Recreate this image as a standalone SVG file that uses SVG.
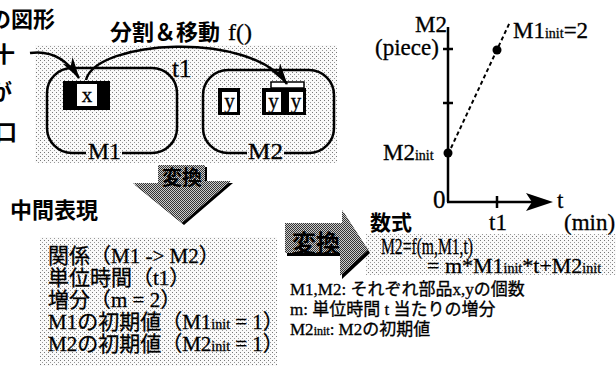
<svg xmlns="http://www.w3.org/2000/svg" width="616" height="377" viewBox="0 0 616 377">
<style>
.g{font-family:"Noto Sans CJK JP","Noto Sans",sans-serif;font-weight:bold;fill:#000}
.s{font-family:"Liberation Serif","Tinos","Times New Roman","DejaVu Serif","Noto Sans CJK JP",serif;fill:#000;stroke:#000;stroke-width:0.3}
.ln{fill:none;stroke:#000;stroke-width:2.5}
.sm{font-size:14px}
</style>
<defs>
<pattern id="dots" width="4" height="4" patternUnits="userSpaceOnUse">
<rect width="4" height="4" fill="#fafafa"/>
<rect x="0" y="0" width="1" height="1" fill="#777"/>
<rect x="2" y="2" width="1" height="1" fill="#999"/>
</pattern>
<pattern id="chk" width="2" height="2" patternUnits="userSpaceOnUse">
<rect width="2" height="2" fill="#ccc"/>
<rect x="0" y="0" width="1" height="1" fill="#333"/>
<rect x="1" y="1" width="1" height="1" fill="#333"/>
</pattern>
<marker id="ah" viewBox="0 0 22 12" refX="21" refY="6" markerWidth="22" markerHeight="12" markerUnits="userSpaceOnUse" orient="auto">
<path d="M0,0 L22,6 L0,12 L6,6 z" fill="#000"/>
</marker>
</defs>
<rect width="616" height="377" fill="#fff"/>

<rect id="panel-top" x="35" y="45" width="302" height="118" fill="url(#dots)"/>
<rect id="panel-mid" x="40" y="237" width="237" height="129" fill="url(#dots)"/>
<rect id="panel-formula" x="366" y="234" width="250" height="41" fill="url(#dots)"/>

<g id="left-text">
<text class="g" x="-11" y="27" font-size="22">の図形</text>
<text class="g" x="-7" y="62" font-size="22" font-weight="normal">十</text>
<text class="g" x="-10" y="100" font-size="22" font-weight="normal">が</text>
<text class="g" x="-5" y="140" font-size="22" font-weight="normal">口</text>
</g>

<g id="title">
<text class="g" x="110" y="40" font-size="22">分割＆移動<tspan class="s" font-weight="normal" dx="8" font-size="24">f()</tspan></text>
</g>

<g id="M1">
<path class="ln" d="M86,153 L72,153 A25,25 0 0 1 47,128 L47,93 A25,25 0 0 1 72,68 L152,68 A25,25 0 0 1 177,93 L177,128 A25,25 0 0 1 152,153 L122,153"/>
<text class="s" x="88" y="159" font-size="24" textLength="33" lengthAdjust="spacingAndGlyphs">M1</text>
<rect x="63" y="81" width="47" height="29" fill="#000"/>
<rect x="77" y="84" width="20" height="22" fill="#fff"/>
<text class="s" x="87" y="102" font-size="21" text-anchor="middle">x</text>
</g>

<g id="M2">
<path class="ln" d="M247,153 L228,153 A25,25 0 0 1 203,128 L203,95 A25,25 0 0 1 228,70 L309,70 A25,25 0 0 1 334,95 L334,128 A25,25 0 0 1 309,153 L284,153"/>
<text class="s" x="248" y="159" font-size="24" textLength="35" lengthAdjust="spacingAndGlyphs">M2</text>
<rect x="218" y="88" width="22" height="27" fill="#000"/>
<rect x="222" y="92" width="15" height="20" fill="#fff"/>
<text class="s" x="229.5" y="108" font-size="21" text-anchor="middle">y</text>
<rect x="262" y="88" width="44" height="27" fill="#000"/>
<rect x="266" y="92" width="15" height="20" fill="#fff"/>
<rect x="289" y="92" width="14" height="20" fill="#fff"/>
<text class="s" x="273.5" y="108" font-size="21" text-anchor="middle">y</text>
<text class="s" x="296" y="108" font-size="21" text-anchor="middle">y</text>
<rect x="271" y="82" width="33" height="6" fill="#fff" stroke="#000" stroke-width="1.5"/>
</g>

<g id="connectors">
<path class="ln" d="M30,53 C50,50 66,58 79,78" marker-end="url(#ah)"/>
<path class="ln" d="M86,80 C96,40 250,30 287,84" marker-end="url(#ah)"/>
</g>
<text class="s" x="172" y="77" font-size="25">t1</text>

<g id="arrow-down">
<polygon points="158,165 205,165 205,181 231,181 182,223 133,183 158,183" fill="#000" transform="translate(2,2)"/>
<polygon points="158,165 205,165 205,181 231,181 182,223 133,183 158,183" fill="url(#chk)"/>
<text class="g" x="162" y="185" font-size="20">変換</text>
</g>

<g id="arrow-right">
<polygon points="285,223 342,223 342,210 368,250 340,276 340,253 285,253" fill="#000" transform="translate(2,3)"/>
<polygon points="285,223 342,223 342,210 368,250 340,276 340,253 285,253" fill="url(#chk)"/>
<text class="g" x="292" y="252" font-size="24">変換</text>
</g>

<g id="mid-text">
<text class="g" x="10" y="218" font-size="22">中間表現</text>
<g class="s" font-size="21">
<text x="48" y="263">関係（M1 -&gt; M2）</text>
<text x="48" y="285">単位時間（t1）</text>
<text x="48" y="307">増分（m = 2）</text>
<text x="48" y="329">M1の初期値（M1<tspan class="sm">init</tspan> = 1）</text>
<text x="48" y="351">M2の初期値（M2<tspan class="sm">init</tspan> = 1）</text>
</g>
</g>

<g id="graph">
<line class="ln" x1="448" y1="27" x2="448" y2="202"/>
<line class="ln" x1="447" y1="202" x2="532" y2="202"/>
<polygon points="526,193 553,202 526,211 532,202" fill="#000"/>
<line class="ln" x1="443" y1="49" x2="453" y2="49"/>
<line class="ln" x1="443" y1="103" x2="453" y2="103"/>
<line class="ln" x1="497" y1="196" x2="497" y2="208"/>
<line x1="451" y1="148" x2="510" y2="22" stroke="#000" stroke-width="2" stroke-dasharray="4,3"/>
<circle cx="448" cy="153" r="4.5" fill="#000"/>
<circle cx="497" cy="50" r="4.5" fill="#000"/>
<g class="s" font-size="23">
<text x="415" y="32">M2</text>
<text x="375" y="55">(piece)</text>
<text x="383" y="160">M2<tspan class="sm">init</tspan></text>
<text x="513" y="38">M1<tspan class="sm">init</tspan>=2</text>
<text x="433" y="208" font-size="25">0</text>
<text x="557" y="208">t</text>
<text x="564" y="230">(min)</text>
<text x="489" y="230">t1</text>
</g>
</g>

<g id="formula">
<text class="g" x="370" y="230" font-size="21">数式</text>
<text class="s" x="381" y="254" font-size="23" textLength="92" lengthAdjust="spacingAndGlyphs">M2=f(m,M1,t)</text>
<text class="s" x="427" y="273" font-size="22">= m*M1<tspan class="sm">init</tspan>*t+M2<tspan class="sm">init</tspan></text>
<g class="s" font-size="17">
<text x="290" y="295">M1,M2: それぞれ部品x,yの個数</text>
<text x="290" y="315">m: 単位時間 t 当たりの増分</text>
<text x="290" y="335">M2<tspan font-size="12">init</tspan>: M2の初期値</text>
</g>
</g>
</svg>
